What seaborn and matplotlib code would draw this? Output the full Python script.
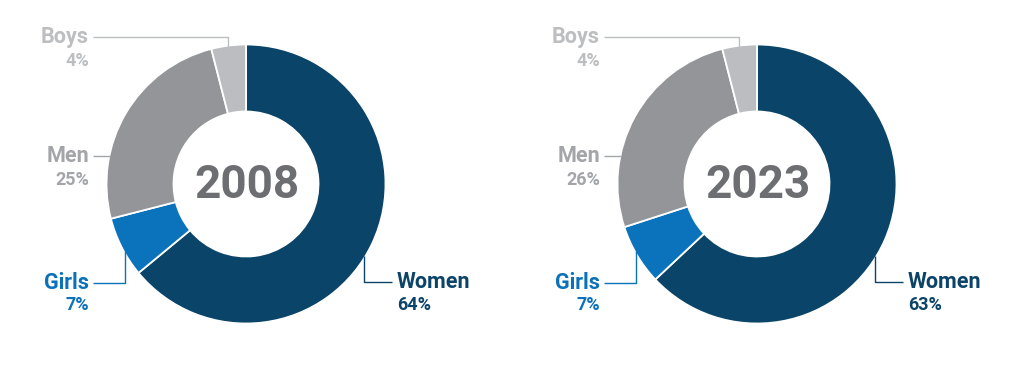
import matplotlib
matplotlib.use("Agg")
import matplotlib.pyplot as plt
import seaborn as sns
import numpy as np

# ---- data ----
categories = ["Women", "Girls", "Men", "Boys"]
years = ["2008", "2023"]
values_2008 = [64, 7, 25, 4]
values_2023 = [63, 7, 26, 4]

sns.set_theme(style="white")
plt.rcParams['font.family'] = ['Roboto', 'DejaVu Sans']

slice_colors = sns.color_palette(["#0A4468", "#0A73BB", "#939598", "#BCBDC0"])
text_colors = ["#0C4369", "#0B72B9", "#A3A5A8", "#BCBEC0"]

W, H = 1024, 376
fig = plt.figure(figsize=(W / 100, H / 100), dpi=100)
ax = fig.add_axes([0, 0, 1, 1])

R = 139.5
RING = 67
centers = [(246, 184), (757, 184)]
all_values = [values_2008, values_2023]
FONT = dict(family="Roboto", fontweight="bold")


def edge_y(cx, cy, x, sign):
    dx = x - cx
    return cy + sign * np.sqrt(max(R ** 2 - dx ** 2, 0))


def edge_x(cx, cy, y, sign):
    dy = y - cy
    return cx + sign * np.sqrt(max(R ** 2 - dy ** 2, 0))


for (cx, cy), vals, yr in zip(centers, all_values, years):
    ax.pie(vals, colors=slice_colors, center=(cx, cy), radius=R,
           startangle=-90, counterclock=True,
           wedgeprops=dict(width=RING, edgecolor="white", linewidth=1.3))
    ax.text(cx + 1, cy + 1, yr, ha="center", va="center", fontsize=33,
            color="#6D6E71", **FONT)

    left_x = cx - 157
    right_x = cx + 151
    lw = 1.0
    NS, PS = 15.5, 13
    # Women (index 0) - right side
    c = text_colors[0]
    lx = cx + 118
    ly = 282
    ax.plot([lx, lx, right_x - 5], [edge_y(cx, cy, lx, 1) - 2, ly, ly], color=c, lw=lw,
            solid_capstyle="butt")
    ax.text(right_x, ly, categories[0], ha="left", va="center", fontsize=NS, color=c, **FONT)
    ax.text(right_x, 305, f"{vals[0]}%", ha="left", va="center", fontsize=PS, color=c, **FONT)
    # Girls (index 1) - left bottom
    c = text_colors[1]
    lx = cx - 121
    ly = 283
    ax.plot([left_x + 4, lx, lx], [ly, ly, edge_y(cx, cy, lx, 1) - 2], color=c, lw=lw,
            solid_capstyle="butt")
    ax.text(left_x, ly, categories[1], ha="right", va="center", fontsize=NS, color=c, **FONT)
    ax.text(left_x, 305, f"{vals[1]}%", ha="right", va="center", fontsize=PS, color=c, **FONT)
    # Men (index 2) - left middle
    c = text_colors[2]
    ly = 156
    ax.plot([left_x + 4, edge_x(cx, cy, ly, -1) + 1], [ly, ly], color=c, lw=lw,
            solid_capstyle="butt")
    ax.text(left_x, ly, categories[2], ha="right", va="center", fontsize=NS, color=c, **FONT)
    ax.text(left_x, 180, f"{vals[2]}%", ha="right", va="center", fontsize=PS, color=c, **FONT)
    # Boys (index 3) - left top
    c = text_colors[3]
    lx = cx - 18
    ly = 37
    ax.plot([left_x + 4, lx, lx], [ly, ly, edge_y(cx, cy, lx, -1) + 1], color=c, lw=lw,
            solid_capstyle="butt")
    ax.text(left_x, ly, categories[3], ha="right", va="center", fontsize=NS, color=c, **FONT)
    ax.text(left_x, 61, f"{vals[3]}%", ha="right", va="center", fontsize=PS, color=c, **FONT)

ax.set_xlim(0, W)
ax.set_ylim(H, 0)
ax.set_aspect("equal", adjustable="box")
ax.axis("off")

fig.savefig("out.png", dpi=100, facecolor="white")
